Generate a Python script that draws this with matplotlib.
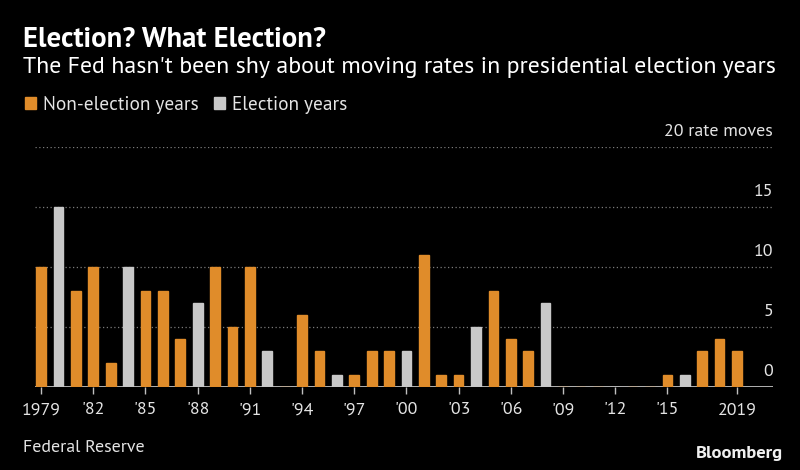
import numpy as np
import matplotlib.pyplot as plt
from matplotlib.patches import Rectangle

# 数据: 每年的利率调整次数 (1979-2019)
years = np.arange(1979, 2020)
rate_moves = [10, 15, 8, 10, 2, 10, 8, 8, 4, 7,
              10, 5, 10, 3, 0, 6, 3, 1, 1, 3,
              3, 3, 11, 1, 1, 5, 8, 4, 3, 7,
              0, 0, 0, 0, 0, 0, 1, 1, 3, 4,
              3]
election_years = [1980, 1984, 1988, 1992, 1996, 2000, 2004, 2008, 2012, 2016]
tick_years = [1979, 1982, 1985, 1988, 1991, 1994, 1997, 2000, 2003, 2006, 2009, 2012, 2015, 2019]
tick_labels = ['1979', "'82", "'85", "'88", "'91", "'94", "'97", "'00", "'03", "'06", "'09", "'12", "'15", '2019']
y_ticks = [0, 5, 10, 15, 20]

orange = '#e08c2a'
grey = '#c8c8c8'
text_col = '#e4e4e4'

plt.rcParams['font.family'] = ['PT Sans', 'Fira Sans Condensed', 'DejaVu Sans']

W, H = 800, 470
fig = plt.figure(figsize=(8, 4.7), dpi=100, facecolor='black')
ax = fig.add_axes([35 / W, 1 - 387 / H, 738 / W, 240 / H], facecolor='black')

colors = [grey if y in election_years else orange for y in years]
ax.bar(years, rate_moves, width=0.56, color=colors, edgecolor=colors, linewidth=1.0, zorder=3)

ax.set_xlim(1978.65, 2021.07)
ax.set_ylim(0, 20)

# 虚线网格
for v in y_ticks[1:]:
    ax.axhline(v, color='#7a7a7a', lw=0.9, ls=(0, (1, 2)), zorder=1)
ax.axhline(0, color='#c0c0c0', lw=1.3, zorder=2)

# 右侧的y轴标签
ylabs = []
for v in y_ticks:
    lab = '20 rate moves' if v == 20 else str(v)
    t = ax.annotate(lab, xy=(1.0, v), xycoords=('axes fraction', 'data'),
                    xytext=(0, 8), textcoords='offset points',
                    ha='right', va='baseline', color=text_col, fontsize=13,
                    annotation_clip=False)
    ylabs.append(t)

for s in ax.spines.values():
    s.set_visible(False)
ax.set_yticks([])
ax.set_xticks(tick_years)
ax.set_xticklabels(tick_labels, fontsize=13, color=text_col)
ax.tick_params(axis='x', length=5, width=1, color='#c0c0c0', pad=6)

title = fig.text(23 / W, 1 - 47 / H, 'Election? What Election?', fontsize=17, fontweight='bold',
                 color='white', ha='left', va='baseline')
subtitle = fig.text(23 / W, 1 - 73 / H,
                    "The Fed hasn't been shy about moving rates in presidential election years",
                    fontsize=16, color='white', ha='left', va='baseline')

# 图例 (手动画小方块)
fig.patches.append(Rectangle((25 / W, 1 - 109 / H), 11 / W, 12 / H, color=orange,
                             transform=fig.transFigure, figure=fig))
fig.patches.append(Rectangle((214 / W, 1 - 109 / H), 11 / W, 12 / H, color=grey,
                             transform=fig.transFigure, figure=fig))
leg1 = fig.text(43 / W, 1 - 110 / H, 'Non-election years', fontsize=13.5, color=text_col,
                ha='left', va='baseline')
leg2 = fig.text(232 / W, 1 - 110 / H, 'Election years', fontsize=13.5, color=text_col,
                ha='left', va='baseline')

source = fig.text(23 / W, 1 - 452 / H, 'Federal Reserve', fontsize=13, color=text_col,
                  ha='left', va='baseline')
brand = fig.text(783 / W, 1 - 458 / H, 'Bloomberg', fontsize=13, fontweight='bold',
                 color='#f0f0f0', ha='right', va='baseline')

# 按参考图的像素宽度调整字号
fig.canvas.draw()
r = fig.canvas.get_renderer()
def fit(t, width_px):
    w = t.get_window_extent(r).width
    t.set_fontsize(t.get_fontsize() * width_px / w)

fit(title, 302)
fit(subtitle, 759)
fit(leg1, 155)
fit(leg2, 115)
fit(source, 121)
fit(brand, 87)
tl = ax.get_xticklabels()[0]
s = tl.get_fontsize() * 39 / tl.get_window_extent(r).width
ax.tick_params(axis='x', labelsize=s)
for t in ylabs:
    t.set_fontsize(s)

fig.savefig('out.png', dpi=100, facecolor='black')
